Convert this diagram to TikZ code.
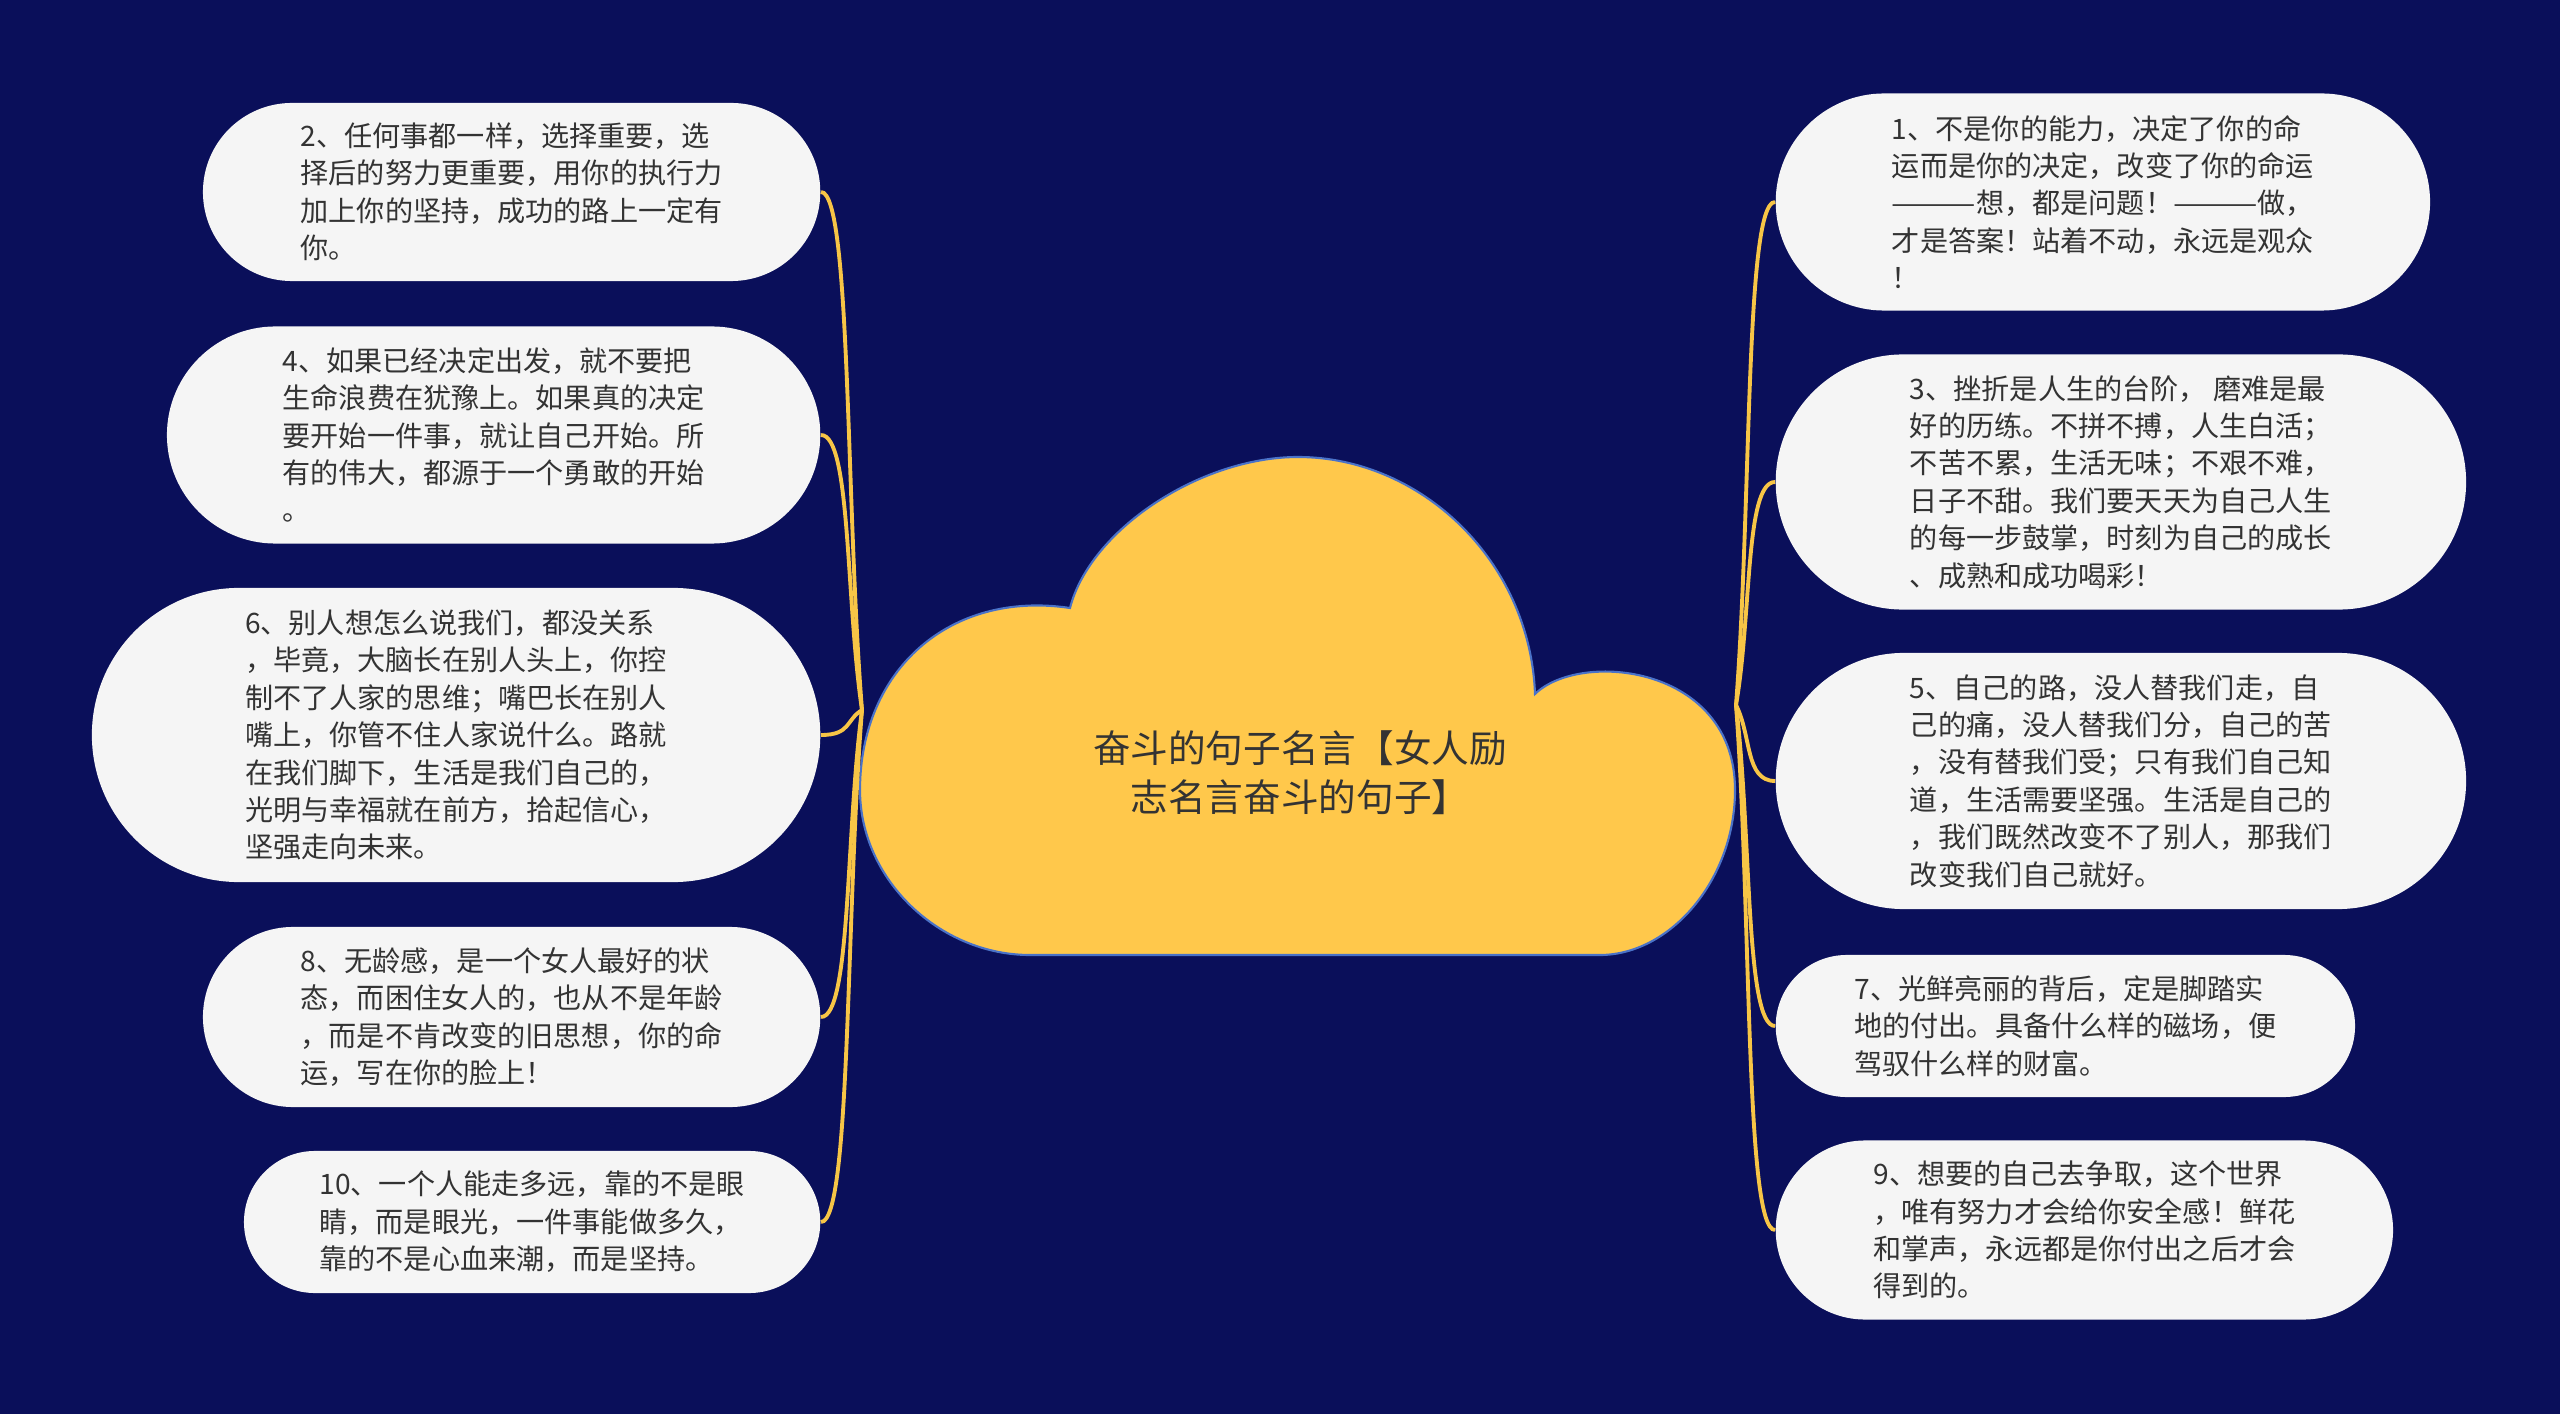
\documentclass[tikz,border=0pt]{standalone}
\usepackage{fontspec}
\setmainfont{Noto Sans CJK SC}
\usepackage{xcolor}
\usepackage{graphicx}
\usetikzlibrary{shapes.misc,calc}

\definecolor{navybg}{HTML}{0A0F5A}
\definecolor{cloudyellow}{HTML}{FFC84B}
\definecolor{cloudblue}{HTML}{4A72C8}
\definecolor{pillgray}{HTML}{F5F5F5}
\definecolor{inkgray}{HTML}{333333}
\definecolor{linkyellow}{HTML}{F7C546}

\newcommand{\longdash}{\resizebox{3em}{\height}{———}}

\begin{document}
\begin{tikzpicture}[
  x=0.01cm, y=0.01cm,
  every node/.style={font=\fontsize{8pt}{10.65pt}\selectfont, text=inkgray},
  leaf/.style={rounded rectangle, fill=pillgray, align=left, inner sep=0pt},
  cloudshape/.style={fill=cloudyellow, draw=cloudblue, line width=0.6pt},
  link/.style={draw=linkyellow, line width=1.1pt}
]
\useasboundingbox[fill=navybg] (0,0) rectangle (2560,1414);

% centre cloud
\draw[cloudshape] (1030,459) .. controls (940,459) and (860,534) .. (860,624)
  .. controls (860,744) and (950,824) .. (1070,806)
  .. controls (1090,884) and (1200,957) .. (1298,957)
  .. controls (1420,957) and (1530,854) .. (1535,720)
  .. controls (1580,764) and (1735,749) .. (1735,624)
  .. controls (1735,534) and (1670,459) .. (1600,459) -- cycle;
\node[font=\fontsize{10.7pt}{14pt}\selectfont, align=center] (title) at (1300,641)
  {奋斗的句子名言【女人励\\志名言奋斗的句子】};
\coordinate (hubL) at (862,704);
\coordinate (hubR) at (1736,709);

% left side
\node[leaf, anchor=east, minimum width=6.17cm, minimum height=1.78cm] (n2) at (821,1222)
  {2、任何事都一样，选择重要，选\\择后的努力更重要，用你的执行力\\加上你的坚持，成功的路上一定有\\你。};
\node[leaf, anchor=east, minimum width=6.53cm, minimum height=2.17cm] (n4) at (821,979)
  {4、如果已经决定出发，就不要把\\生命浪费在犹豫上。如果真的决定\\要开始一件事，就让自己开始。所\\有的伟大，都源于一个勇敢的开始\\。};
\node[leaf, anchor=east, minimum width=7.28cm, minimum height=2.94cm] (n6) at (821,679)
  {6、别人想怎么说我们，都没关系\\，毕竟，大脑长在别人头上，你控\\制不了人家的思维；嘴巴长在别人\\嘴上，你管不住人家说什么。路就\\在我们脚下，生活是我们自己的，\\光明与幸福就在前方，拾起信心，\\坚强走向未来。};
\node[leaf, anchor=east, minimum width=6.17cm, minimum height=1.80cm] (n8) at (821,397)
  {8、无龄感，是一个女人最好的状\\态，而困住女人的，也从不是年龄\\，而是不肯改变的旧思想，你的命\\运，写在你的脸上！};
\node[leaf, anchor=east, minimum width=5.76cm, minimum height=1.42cm] (n10) at (821,192)
  {10、一个人能走多远，靠的不是眼\\睛，而是眼光，一件事能做多久，\\靠的不是心血来潮，而是坚持。};

% right side
\node[leaf, anchor=west, minimum width=6.54cm, minimum height=2.17cm] (n1) at (1775,1212)
  {1、不是你的能力，决定了你的命\\运而是你的决定，改变了你的命运\\\longdash 想，都是问题！\longdash 做，\\才是答案！站着不动，永远是观众\\！};
\node[leaf, anchor=west, minimum width=6.90cm, minimum height=2.55cm] (n3) at (1775,932)
  {3、挫折是人生的台阶， 磨难是最\\好的历练。不拼不搏，人生白活；\\不苦不累，生活无味；不艰不难，\\日子不甜。我们要天天为自己人生\\的每一步鼓掌，时刻为自己的成长\\、成熟和成功喝彩！};
\node[leaf, anchor=west, minimum width=6.90cm, minimum height=2.56cm] (n5) at (1775,633)
  {5、自己的路，没人替我们走，自\\己的痛，没人替我们分，自己的苦\\，没有替我们受；只有我们自己知\\道，生活需要坚强。生活是自己的\\，我们既然改变不了别人，那我们\\改变我们自己就好。};
\node[leaf, anchor=west, minimum width=5.79cm, minimum height=1.42cm] (n7) at (1775,388)
  {7、光鲜亮丽的背后，定是脚踏实\\地的付出。具备什么样的磁场，便\\驾驭什么样的财富。};
\node[leaf, anchor=west, minimum width=6.17cm, minimum height=1.79cm] (n9) at (1775,184)
  {9、想要的自己去争取，这个世界\\，唯有努力才会给你安全感！鲜花\\和掌声，永远都是你付出之后才会\\得到的。};

\draw[link] (hubL) .. controls ($(hubL)!0.4!(n2.east)$) and ($(n2.east)+(30,0)$) .. (n2.east);
\draw[link] (hubL) .. controls ($(hubL)!0.4!(n4.east)$) and ($(n4.east)+(30,0)$) .. (n4.east);
\draw[link] (hubL) .. controls ($(hubL)!0.4!(n6.east)$) and ($(n6.east)+(30,0)$) .. (n6.east);
\draw[link] (hubL) .. controls ($(hubL)!0.4!(n8.east)$) and ($(n8.east)+(30,0)$) .. (n8.east);
\draw[link] (hubL) .. controls ($(hubL)!0.4!(n10.east)$) and ($(n10.east)+(30,0)$) .. (n10.east);
\draw[link] (hubR) .. controls ($(hubR)!0.4!(n1.west)$) and ($(n1.west)+(-30,0)$) .. (n1.west);
\draw[link] (hubR) .. controls ($(hubR)!0.4!(n3.west)$) and ($(n3.west)+(-30,0)$) .. (n3.west);
\draw[link] (hubR) .. controls ($(hubR)!0.4!(n5.west)$) and ($(n5.west)+(-30,0)$) .. (n5.west);
\draw[link] (hubR) .. controls ($(hubR)!0.4!(n7.west)$) and ($(n7.west)+(-30,0)$) .. (n7.west);
\draw[link] (hubR) .. controls ($(hubR)!0.4!(n9.west)$) and ($(n9.west)+(-30,0)$) .. (n9.west);
\end{tikzpicture}
\end{document}
